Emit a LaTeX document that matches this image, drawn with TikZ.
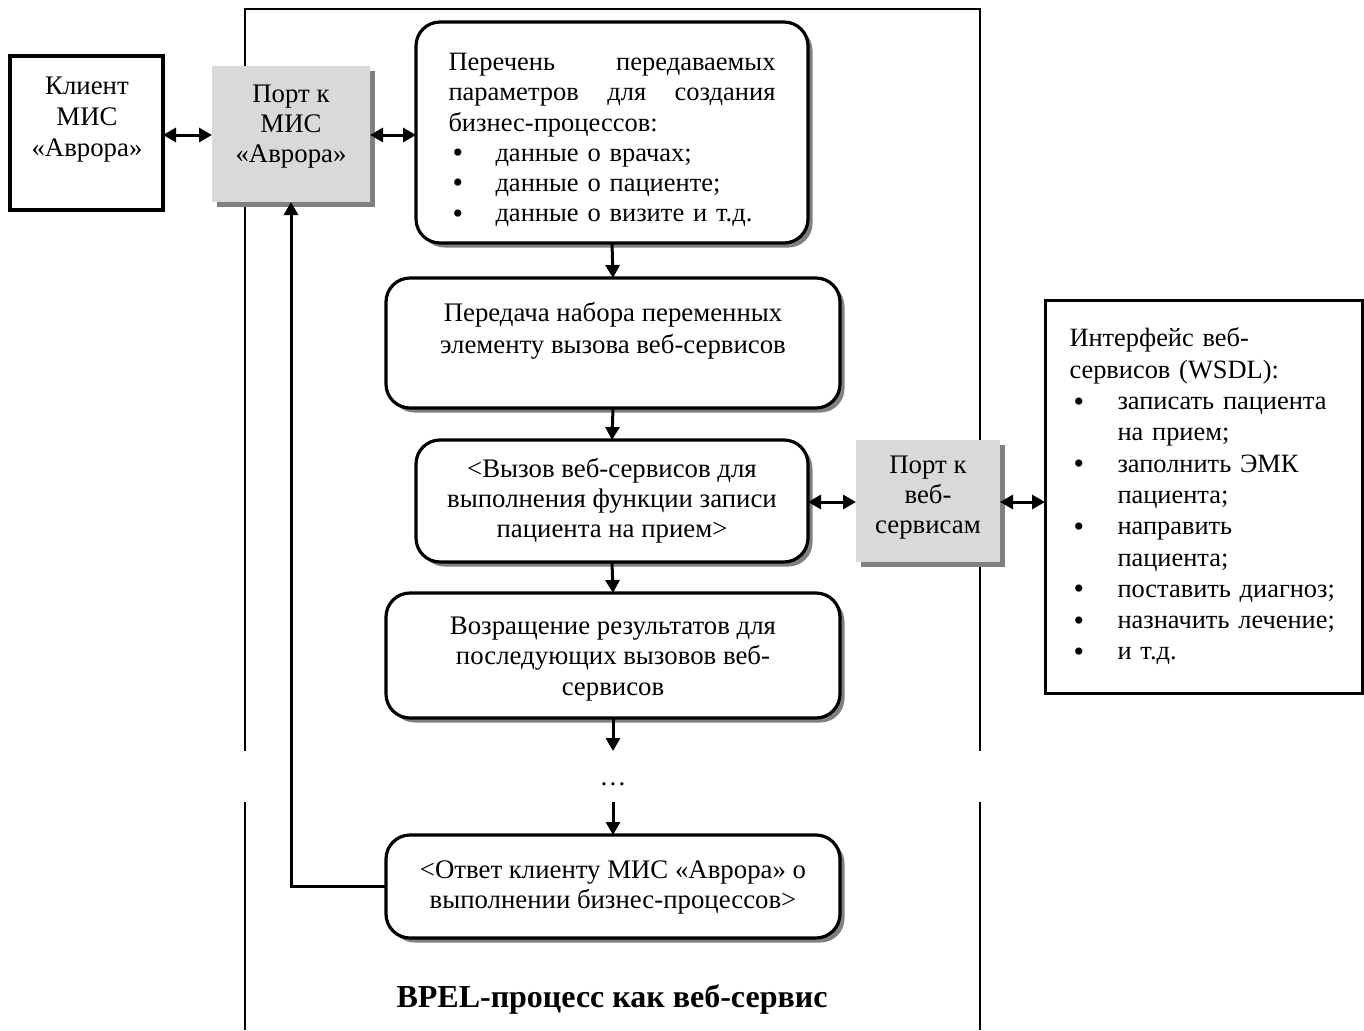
\documentclass[tikz,border=0pt]{standalone}
\usepackage{fontspec}
\setmainfont{Liberation Serif}
\usetikzlibrary{arrows.meta,shadows}
\newcommand\bigdot{\raisebox{-1.5pt}[0pt][0pt]{\fontsize{30}{30}\selectfont•}}
\newcommand\mybul{\makebox[47pt][l]{\hspace{4pt}\bigdot}}
\newcommand\mybulw{\makebox[48pt][l]{\hspace{4pt}\bigdot}}
\newcommand\myind{\hspace*{48pt}}
\begin{document}
\begin{tikzpicture}[x=1pt,y=-1pt,
  txt/.style={font=\fontsize{26.8}{30}\selectfont},
  rbox/.style={draw, line width=3.2pt, rounded corners=24pt, fill=white,
    inner sep=0pt, outer sep=0pt, anchor=north west, align=center, txt,
    general shadow={fill=black!50, shadow xshift=4.5pt, shadow yshift=-4.5pt}},
  sbox/.style={draw, line width=3.5pt, fill=white, inner sep=0pt, outer sep=0pt,
    anchor=north west, txt},
  port/.style={fill=black!15, inner sep=0pt, outer sep=0pt, anchor=north west,
    align=center, txt,
    general shadow={fill=black!50, shadow xshift=5pt, shadow yshift=-5pt}},
  plain/.style={inner sep=0pt, align=center, txt},
  frame/.style={line width=2.4pt},
  arr/.style={line width=3pt, -{Triangle[length=13pt,width=14pt]}},
  darr/.style={line width=3pt, {Triangle[length=13pt,width=14pt]}-{Triangle[length=13pt,width=14pt]}}
]
\useasboundingbox (0,0) rectangle (1364,1030);

% outer frame of the BPEL process
\draw[frame] (245,1030) -- (245,802);
\draw[frame] (245,751) -- (245,9) -- (980,9) -- (980,751);
\draw[frame] (980,802) -- (980,1030);

% client and its port
\node[sbox, minimum width=153pt, minimum height=154pt] (client) at (10,56) {};
\node[plain, font=\fontsize{26.8}{31}\selectfont] (clientT) at (87,120) {Клиент\\МИС\\«Аврора»};

\node[port, minimum width=158pt, minimum height=136pt] (port1) at (212,66) {};
\node[plain] (port1T) at (291,127) {Порт к\\МИС\\«Аврора»};

% process steps
\node[rbox, minimum width=392pt, minimum height=221pt] (box1) at (416,22) {};
\node[plain, text width=327pt, align=left, font=\fontsize{26.5}{30.2}\selectfont] (box1T) at (612,140)
  {\makebox[327pt][l]{Перечень\hfill передаваемых}\\
   \makebox[327pt][l]{параметров\hfill для\hfill создания}\\
   бизнес-процессов:\\
   \mybul данные о врачах;\\
   \mybul данные о пациенте;\\
   \mybul данные о визите и т.д.};

\node[rbox, minimum width=454pt, minimum height=130pt] (box2) at (386,278) {};
\node[plain, font=\fontsize{26.8}{32}\selectfont] (box2T) at (613,331)
  {Передача набора переменных\\элементу вызова веб-сервисов};

\node[rbox, minimum width=392pt, minimum height=122pt] (box3) at (416,440)
  {<Вызов веб-сервисов для\\выполнения функции записи\\пациента на прием>};

\node[rbox, minimum width=454pt, minimum height=125pt] (box4) at (386,593) {};
\node[plain, font=\fontsize{26.8}{30.5}\selectfont] (box4T) at (613,659)
  {Возращение результатов для\\последующих вызовов веб-\\сервисов};

\node[plain] (dots) at (613,784) {…};
\coordinate (d1) at (613,751);
\coordinate (d2) at (613,802);

\node[rbox, minimum width=454pt, minimum height=103pt] (box5) at (386,835) {};
\node[plain] (box5T) at (613,887)
  {<Ответ клиенту МИС «Аврора» о\\выполнении бизнес-процессов>};

% web-service port and interface
\node[port, minimum width=144pt, minimum height=122pt] (port2) at (856,440) {};
\node[plain] (port2T) at (928,498) {Порт к\\веб-\\сервисам};

\node[sbox, line width=3pt, minimum width=317pt, minimum height=393pt, text width=268pt,
  align=left, font=\fontsize{26.4}{31.3}\selectfont] (iface) at (1045,300)
  {Интерфейс веб-\\
   сервисов (WSDL):\\
   \mybulw записать пациента\\
   \myind на прием;\\
   \mybulw заполнить ЭМК\\
   \myind пациента;\\
   \mybulw направить\\
   \myind пациента;\\
   \mybulw поставить диагноз;\\
   \mybulw назначить лечение;\\
   \mybulw и т.д.};

\node[inner sep=0pt, font=\fontsize{32}{38}\selectfont\bfseries] (title) at (612,999)
  {BPEL-процесс как веб-сервис};

% connectors
\draw[darr] (client.east |- 0,135) -- (port1.west |- 0,135);
\draw[darr] (port1.east |- 0,135) -- (box1.west |- 0,135);
\draw[arr] (box1.south) -- (box2.north);
\draw[arr] (box2.south) -- (box3.north);
\draw[arr] (box3.south) -- (box4.north);
\draw[arr] (box4.south) -- (d1);
\draw[arr] (d2) -- (box5.north);
\draw[arr] (box5.west) -| (port1.south);
\draw[darr] (box3.east |- 0,502) -- (port2.west |- 0,502);
\draw[darr] (port2.east |- 0,502) -- (iface.west |- 0,502);
\end{tikzpicture}
\end{document}
